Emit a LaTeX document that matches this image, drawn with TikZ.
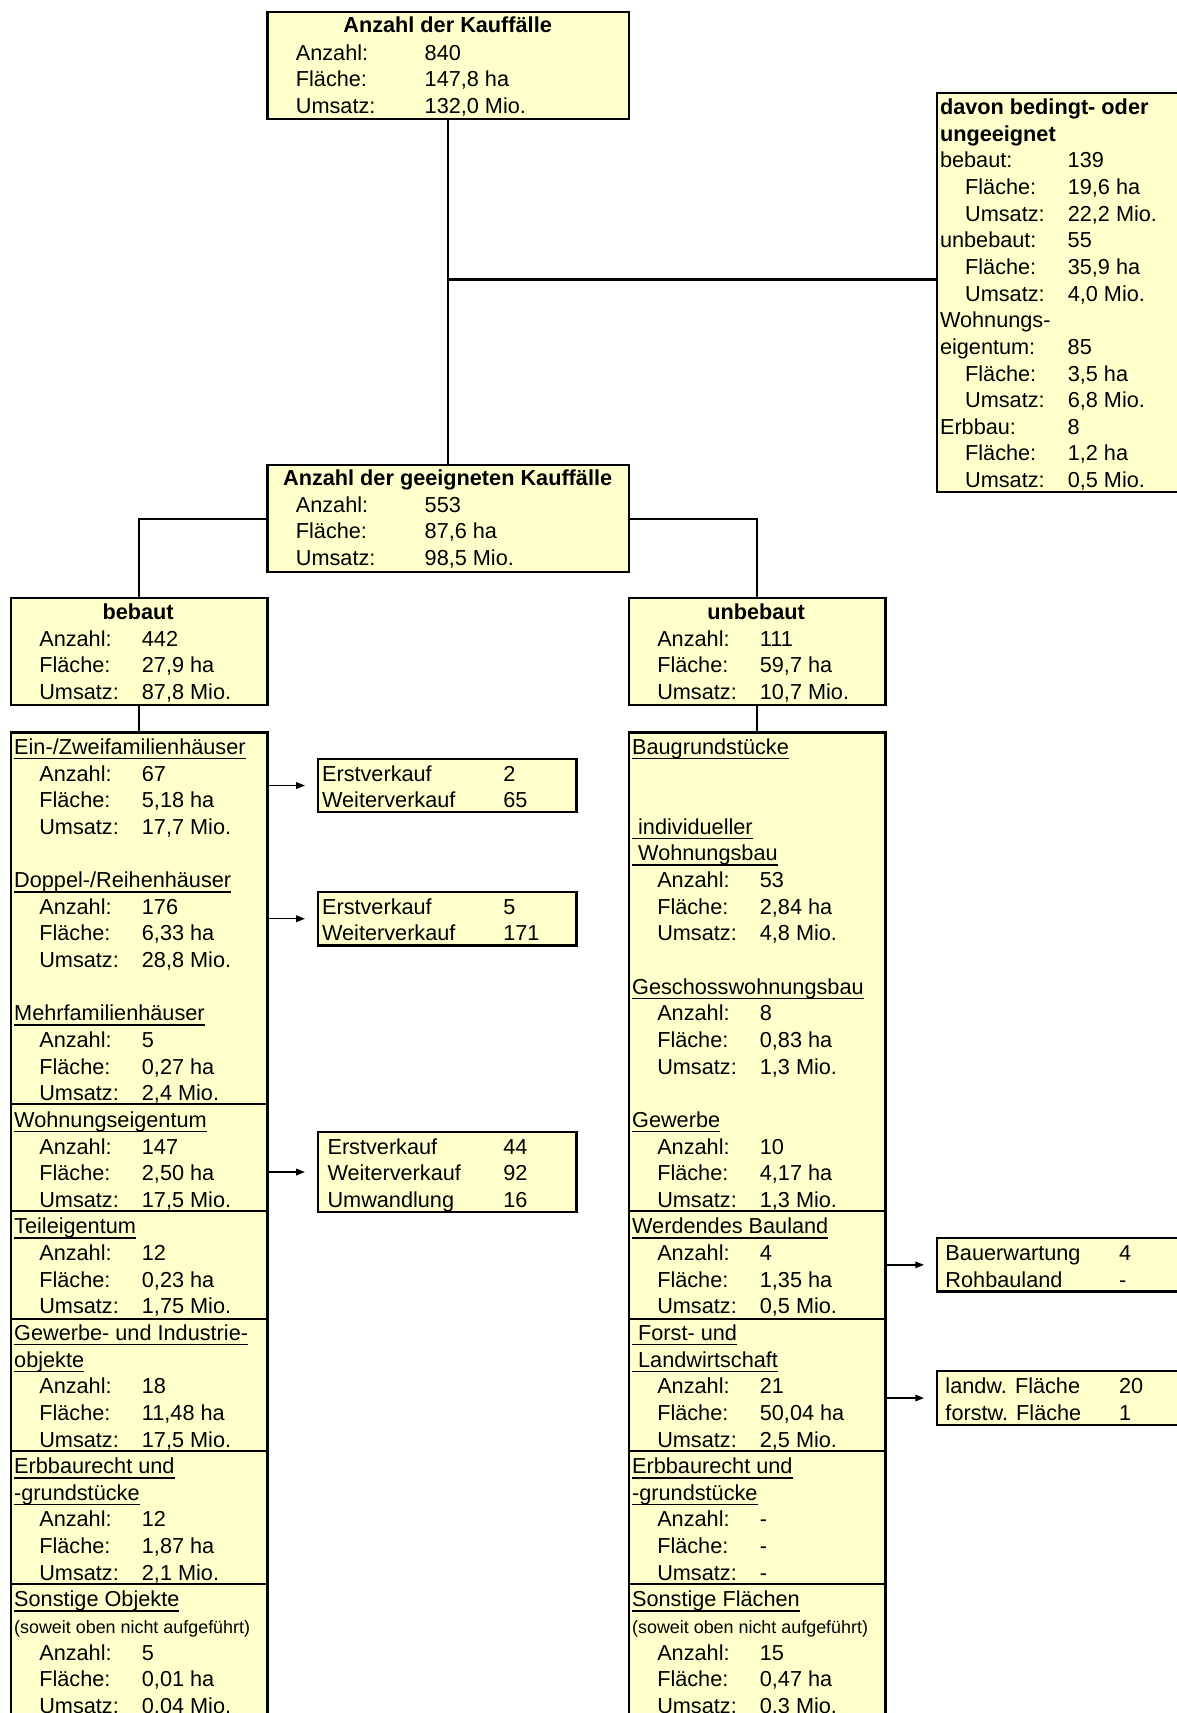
\documentclass[tikz,border=0pt]{standalone}
\usepackage{fontspec}
\setmainfont{Liberation Sans}
\usetikzlibrary{arrows.meta}
\definecolor{boxfill}{RGB}{255,255,204}
\newcommand\mainsz{\fontsize{14.9pt}{18.3pt}\selectfont}
\newcommand\smallsz{\fontsize{12.3pt}{14pt}\selectfont}
\newcommand\ulx[1]{\setbox0\hbox{#1}\rlap{\rule[-3.4pt]{\wd0}{1pt}}\box0}
\newcommand\ind{\hspace*{17.25pt}}
\newcommand\hd[1]{\multicolumn{2}{@{}l@{}}{#1}}
\newcommand\tb[2]{\begin{tabular}[t]{@{}p{#1}@{}l@{}}#2\end{tabular}}
\newcommand\mkbox[5]{\node[box, minimum width={(#4-#2)*0.75pt}, minimum height={(#5-#3)*0.75pt}] (#1) at (#2,#3) {};}
\begin{document}
\begin{tikzpicture}[x=0.75pt,y=-0.75pt,
 box/.style={draw=black, line width=1.5pt, fill=boxfill, inner sep=0pt, anchor=north west},
 txt/.style={inner sep=0pt, outer sep=0pt, anchor=base west, font=\mainsz, yshift=-1.5pt},
 ttl/.style={inner sep=0pt, outer sep=0pt, anchor=base, font=\mainsz\bfseries, yshift=-1.5pt},
 conn/.style={line width=1.5pt},
 sepline/.style={line width=1.5pt},
 arr/.style={line width=1pt, -{Triangle[length=6pt,width=4.5pt]}, shorten >=8pt}]
\useasboundingbox (0,0) rectangle (1078,1569);
\clip (0,0) rectangle (1078,1569);

% boxes
\mkbox{top}{244}{10}{575}{108}
\mkbox{dav}{857}{84}{1095}{450}
\mkbox{gee}{244}{425}{575}{523}
\mkbox{beb}{9}{547}{244}{645}
\mkbox{unb}{575}{547}{810}{645}
\mkbox{lc}{9}{670}{244}{1590}
\mkbox{rc}{575}{670}{810}{1590}
\mkbox{e1}{290}{694}{527}{743}
\mkbox{e2}{290}{816}{527}{865}
\mkbox{e3}{290}{1036}{527}{1109}
\mkbox{bw}{857}{1133}{1095}{1182}
\mkbox{lw}{857}{1255}{1095}{1304}

% connectors
\path (top.south) ++(0,146) coordinate (j1);
\draw[conn] (top.south) -- (gee.north);
\draw[conn] (j1) -- (j1 -| dav.west);
\draw[conn] (gee.west) -| (beb.north);
\draw[conn] (gee.east) -| (unb.north);
\draw[conn] (beb.south) -- (lc.north);
\draw[conn] (unb.south) -- (rc.north);

% arrows
\draw[arr] (lc.east |- e1.west) -- (e1.west);
\draw[arr] (lc.east |- e2.west) -- (e2.west);
\draw[arr] (lc.east |- e3.west) -- (e3.west);
\draw[arr] (rc.east |- bw.west) -- (bw.west);
\draw[arr] (rc.east |- lw.west) -- (lw.west);

% separators
\foreach \yy in {1011,1109,1208,1329,1451}{
  \path (0,\yy) coordinate (tmp);
  \draw[sepline] (lc.west |- tmp) -- (lc.east |- tmp);
}
\foreach \yy in {1109,1208,1329,1451}{
  \path (0,\yy) coordinate (tmp);
  \draw[sepline] (rc.west |- tmp) -- (rc.east |- tmp);
}

% texts
\node[ttl] (t-top) at (410,28) {Anzahl der Kauffälle};
\node[txt] (x-top) at (271,53) {\tb{88.5pt}{Anzahl: & 840\\ Fläche: & 147,8 ha\\ Umsatz: & 132,0 Mio.}};

\node[ttl] (t-gee) at (410,443) {Anzahl der geeigneten Kauffälle};
\node[txt] (x-gee) at (271,467) {\tb{88.5pt}{Anzahl: & 553\\ Fläche: & 87,6 ha\\ Umsatz: & 98,5 Mio.}};

\node[ttl] (t-beb) at (126.5,565) {bebaut};
\node[txt] (x-beb) at (36,590) {\tb{70.5pt}{Anzahl: & 442\\ Fläche: & 27,9 ha\\ Umsatz: & 87,8 Mio.}};

\node[ttl] (t-unb) at (692.5,565) {unbebaut};
\node[txt] (x-unb) at (602,590) {\tb{70.5pt}{Anzahl: & 111\\ Fläche: & 59,7 ha\\ Umsatz: & 10,7 Mio.}};

\node[txt] (x-dav) at (861,103) {\tb{87.75pt}{%
\hd{\bfseries davon bedingt- oder}\\
\hd{\bfseries ungeeignet}\\
bebaut: & 139\\
\ind Fläche: & 19,6 ha\\
\ind Umsatz: & 22,2 Mio.\\
unbebaut: & 55\\
\ind Fläche: & 35,9 ha\\
\ind Umsatz: & 4,0 Mio.\\
\hd{Wohnungs-}\\
eigentum: & 85\\
\ind Fläche: & 3,5 ha\\
\ind Umsatz: & 6,8 Mio.\\
Erbbau: & 8\\
\ind Fläche: & 1,2 ha\\
\ind Umsatz: & 0,5 Mio.}};

\node[txt] (x-lc) at (13,689) {\tb{87.75pt}{%
\hd{\ulx{Ein-/Zweifamilienhäuser}}\\
\ind Anzahl: & 67\\
\ind Fläche: & 5,18 ha\\
\ind Umsatz: & 17,7 Mio.\\
 & \\
\hd{\ulx{Doppel-/Reihenhäuser}}\\
\ind Anzahl: & 176\\
\ind Fläche: & 6,33 ha\\
\ind Umsatz: & 28,8 Mio.\\
 & \\
\hd{\ulx{Mehrfamilienhäuser}}\\
\ind Anzahl: & 5\\
\ind Fläche: & 0,27 ha\\
\ind Umsatz: & 2,4 Mio.\\
\hd{\ulx{Wohnungseigentum}}\\
\ind Anzahl: & 147\\
\ind Fläche: & 2,50 ha\\
\ind Umsatz: & 17,5 Mio.\\
\hd{\ulx{Teileigentum}}\\
\ind Anzahl: & 12\\
\ind Fläche: & 0,23 ha\\
\ind Umsatz: & 1,75 Mio.\\
\hd{\ulx{Gewerbe- und Industrie-}}\\
\hd{\ulx{objekte}}\\
\ind Anzahl: & 18\\
\ind Fläche: & 11,48 ha\\
\ind Umsatz: & 17,5 Mio.\\
\hd{\ulx{Erbbaurecht und}}\\
\hd{\ulx{-grundstücke}}\\
\ind Anzahl: & 12\\
\ind Fläche: & 1,87 ha\\
\ind Umsatz: & 2,1 Mio.\\
\hd{\ulx{Sonstige Objekte}}\\
\hd{\smallsz (soweit oben nicht aufgeführt)}\\
\ind Anzahl: & 5\\
\ind Fläche: & 0,01 ha\\
\ind Umsatz: & 0,04 Mio.}};

\node[txt] (x-rc) at (579,689) {\tb{87.75pt}{%
\hd{\ulx{Baugrundstücke}}\\
 & \\
 & \\
\hd{\ulx{\ individueller}}\\
\hd{\ulx{\ Wohnungsbau}}\\
\ind Anzahl: & 53\\
\ind Fläche: & 2,84 ha\\
\ind Umsatz: & 4,8 Mio.\\
 & \\
\hd{\ulx{Geschosswohnungsbau}}\\
\ind Anzahl: & 8\\
\ind Fläche: & 0,83 ha\\
\ind Umsatz: & 1,3 Mio.\\
 & \\
\hd{\ulx{Gewerbe}}\\
\ind Anzahl: & 10\\
\ind Fläche: & 4,17 ha\\
\ind Umsatz: & 1,3 Mio.\\
\hd{\ulx{Werdendes Bauland}}\\
\ind Anzahl: & 4\\
\ind Fläche: & 1,35 ha\\
\ind Umsatz: & 0,5 Mio.\\
\hd{\ulx{\ Forst- und}}\\
\hd{\ulx{\ Landwirtschaft}}\\
\ind Anzahl: & 21\\
\ind Fläche: & 50,04 ha\\
\ind Umsatz: & 2,5 Mio.\\
\hd{\ulx{Erbbaurecht und}}\\
\hd{\ulx{-grundstücke}}\\
\ind Anzahl: & -\\
\ind Fläche: & -\\
\ind Umsatz: & -\\
\hd{\ulx{Sonstige Flächen}}\\
\hd{\smallsz (soweit oben nicht aufgeführt)}\\
\ind Anzahl: & 15\\
\ind Fläche: & 0,47 ha\\
\ind Umsatz: & 0,3 Mio.}};

\node[txt] (x-e1) at (295,713.4) {\tb{124.5pt}{Erstverkauf & 2\\ Weiterverkauf & 65}};
\node[txt] (x-e2) at (295,835.4) {\tb{124.5pt}{Erstverkauf & 5\\ Weiterverkauf & 171}};
\node[txt] (x-e3) at (300,1055) {\tb{120.75pt}{Erstverkauf & 44\\ Weiterverkauf & 92\\ Umwandlung & 16}};
\node[txt] (x-bw) at (866,1152.6) {\tb{119.25pt}{Bauerwartung & 4\\ Rohbauland & -}};
\node[txt] (x-lw) at (866,1274.6) {\tb{119.25pt}{landw. Fläche & 20\\ forstw. Fläche & 1}};
\end{tikzpicture}
\end{document}
